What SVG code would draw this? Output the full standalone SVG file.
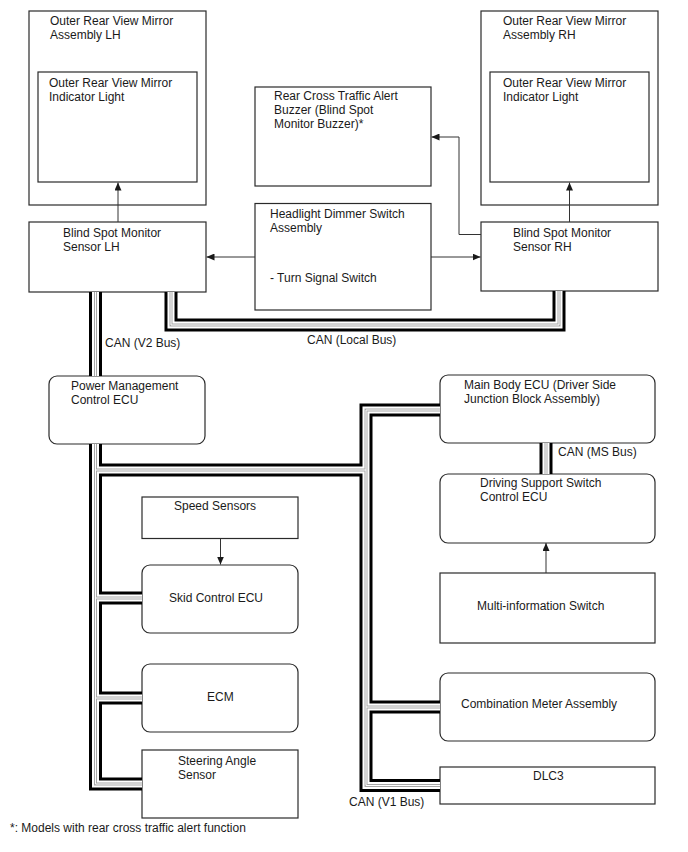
<svg xmlns="http://www.w3.org/2000/svg" xmlns:xlink="http://www.w3.org/1999/xlink" width="688" height="852" viewBox="0 0 688 852">
<style>
  text { font-family: "Liberation Sans", Arial, sans-serif; font-size: 12px; fill: #1a1a1a; }
  .box { fill: #ffffff; stroke: #2a2a2a; stroke-width: 1.2; }
  .arrow { fill: none; stroke: #333333; stroke-width: 1; marker-end: url(#ah); }
  .bus { fill: none; stroke-linejoin: miter; stroke-linecap: butt; }
</style>
<defs>
  <marker id="ah" markerUnits="userSpaceOnUse" markerWidth="8" markerHeight="7" refX="8" refY="3.5" orient="auto">
    <path d="M0,0 L8,3.5 L0,7 z" fill="#1a1a1a"/>
  </marker>
  <g id="busPaths" class="bus">
    <path d="M95.5,292 V376"/>
    <path d="M171,292 V325 H559 V291"/>
    <path d="M546,443 V474"/>
    <path d="M95.5,444 V784 H142"/>
    <path d="M95.5,598 H142"/>
    <path d="M95.5,698 H142"/>
    <path d="M95.5,470 H366"/>
    <path d="M440,410 H366 V785.5 H440"/>
    <path d="M366,707 H440"/>
  </g>
</defs>

<g id="mirror-lh">
  <rect class="box" x="29" y="11" width="177" height="194"/>
  <text x="50" y="25">Outer Rear View Mirror</text>
  <text x="50" y="38.5">Assembly LH</text>
</g>
<g id="indicator-lh">
  <rect class="box" x="38" y="72" width="159" height="110"/>
  <text x="49" y="87">Outer Rear View Mirror</text>
  <text x="49" y="100.5">Indicator Light</text>
</g>
<g id="sensor-lh">
  <rect class="box" x="29" y="222" width="177" height="70"/>
  <text x="63" y="237">Blind Spot Monitor</text>
  <text x="63" y="251">Sensor LH</text>
</g>
<g id="buzzer">
  <rect class="box" x="255" y="87" width="176" height="99"/>
  <text x="274" y="100">Rear Cross Traffic Alert</text>
  <text x="274" y="114">Buzzer (Blind Spot</text>
  <text x="274" y="128">Monitor Buzzer)*</text>
</g>
<g id="headlight-switch">
  <rect class="box" x="255" y="203.5" width="176" height="106.5"/>
  <text x="270" y="218">Headlight Dimmer Switch</text>
  <text x="270" y="232">Assembly</text>
  <text x="270" y="282">- Turn Signal Switch</text>
</g>
<g id="mirror-rh">
  <rect class="box" x="481" y="11" width="177" height="194"/>
  <text x="503" y="25">Outer Rear View Mirror</text>
  <text x="503" y="38.5">Assembly RH</text>
</g>
<g id="indicator-rh">
  <rect class="box" x="490" y="72" width="159" height="110"/>
  <text x="503" y="87">Outer Rear View Mirror</text>
  <text x="503" y="100.5">Indicator Light</text>
</g>
<g id="sensor-rh">
  <rect class="box" x="481" y="222" width="177" height="69"/>
  <text x="513" y="237">Blind Spot Monitor</text>
  <text x="513" y="251">Sensor RH</text>
</g>

<g id="power-mgmt-ecu">
  <rect class="box" x="49" y="376" width="156" height="68" rx="8" ry="8"/>
  <text x="71" y="390">Power Management</text>
  <text x="71" y="403.5">Control ECU</text>
</g>
<g id="main-body-ecu">
  <rect class="box" x="440" y="375" width="215" height="68" rx="8" ry="8"/>
  <text x="464" y="388.5">Main Body ECU (Driver Side</text>
  <text x="464" y="402.5">Junction Block Assembly)</text>
</g>
<g id="driving-support-ecu">
  <rect class="box" x="440" y="474" width="215" height="69" rx="8" ry="8"/>
  <text x="480" y="487">Driving Support Switch</text>
  <text x="480" y="500.5">Control ECU</text>
</g>
<g id="multi-info-switch">
  <rect class="box" x="440" y="573" width="215" height="70"/>
  <text x="477" y="609.5">Multi-information Switch</text>
</g>
<g id="speed-sensors">
  <rect class="box" x="142" y="497" width="156" height="41.5"/>
  <text x="174" y="510">Speed Sensors</text>
</g>
<g id="skid-control-ecu">
  <rect class="box" x="142" y="565" width="156" height="68" rx="8" ry="8"/>
  <text x="169" y="602">Skid Control ECU</text>
</g>
<g id="ecm">
  <rect class="box" x="142" y="664" width="156" height="68" rx="8" ry="8"/>
  <text x="207" y="701">ECM</text>
</g>
<g id="steering-angle-sensor">
  <rect class="box" x="142" y="750" width="156" height="68"/>
  <text x="178" y="765">Steering Angle</text>
  <text x="178" y="778.5">Sensor</text>
</g>
<g id="combination-meter">
  <rect class="box" x="440" y="673" width="215" height="68" rx="8" ry="8"/>
  <text x="461" y="707.5">Combination Meter Assembly</text>
</g>
<g id="dlc3">
  <rect class="box" x="440" y="767" width="215" height="37"/>
  <text x="533" y="780">DLC3</text>
</g>

<g id="connectors">
  <use xlink:href="#busPaths" stroke="#000000" stroke-width="13"/>
  <use xlink:href="#busPaths" stroke="#ffffff" stroke-width="7"/>
  <use xlink:href="#busPaths" stroke="#a8a8a8" stroke-width="3"/>
  <use xlink:href="#busPaths" stroke="#ffffff" stroke-width="1"/>
  <path class="arrow" d="M118,222 V182.5"/>
  <path class="arrow" d="M569.5,222 V182.5"/>
  <path class="arrow" d="M255,257 H206.5"/>
  <path class="arrow" d="M431,257 H480.5"/>
  <path class="arrow" d="M481,234.5 H459 V137 H431.5"/>
  <path class="arrow" d="M220.5,538.5 V564.5"/>
  <path class="arrow" d="M546,573 V543"/>
</g>

<g id="bus-labels">
  <text x="105" y="347">CAN (V2 Bus)</text>
  <text x="307" y="344">CAN (Local Bus)</text>
  <text x="558" y="456">CAN (MS Bus)</text>
  <text x="349" y="806">CAN (V1 Bus)</text>
</g>

<g id="footnote">
  <text x="10" y="832">*: Models with rear cross traffic alert function</text>
</g>
</svg>
